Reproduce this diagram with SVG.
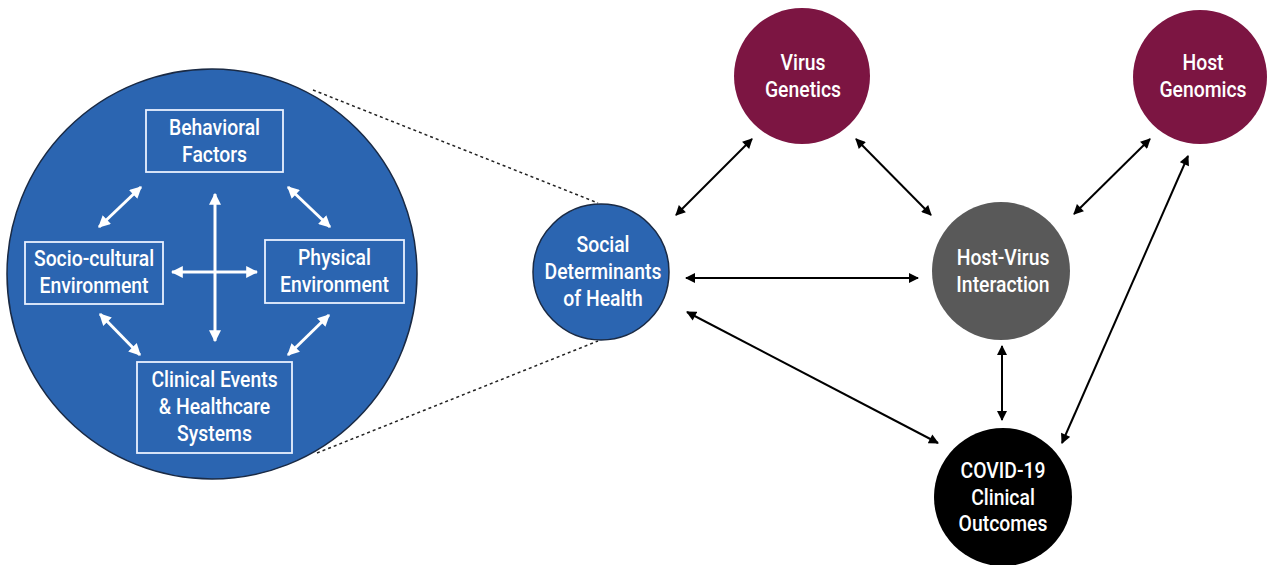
<svg xmlns="http://www.w3.org/2000/svg" width="1267" height="565" viewBox="0 0 1267 565">
<defs>
<style>
text{font-family:Roboto,"Liberation Sans",sans-serif;fill:#fff;text-anchor:middle;dominant-baseline:central;font-size:22px;font-weight:500}
.box{fill:none;stroke:#e8f0ff;stroke-width:1.8}
.wl{stroke:#fff;stroke-width:3;fill:none;marker-start:url(#wh);marker-end:url(#wh)}
.bl{stroke:#000;stroke-width:2;fill:none;marker-start:url(#bh);marker-end:url(#bh)}
.dot{stroke:#222;stroke-width:1.5;stroke-dasharray:3 3;fill:none}
</style>
<marker id="wh" viewBox="0 0 10 10" refX="9" refY="5" markerWidth="4" markerHeight="4" orient="auto-start-reverse" markerUnits="strokeWidth"><path d="M0,0 L10,5 L0,10 Z" fill="#fff"/></marker>
<marker id="bh" viewBox="0 0 10 10" refX="9" refY="5" markerWidth="5.5" markerHeight="5" orient="auto-start-reverse" markerUnits="strokeWidth"><path d="M0,0 L10,5 L0,10 Z" fill="#000"/></marker>
</defs>
<g id="connectors">
<line class="dot" x1="313" y1="90" x2="598" y2="203"/>
<line class="dot" x1="317" y1="453" x2="598" y2="341"/>
<line class="bl" x1="676" y1="215" x2="752" y2="139"/>
<line class="bl" x1="856" y1="139" x2="931" y2="215"/>
<line class="bl" x1="686" y1="278" x2="918" y2="278"/>
<line class="bl" x1="687" y1="312" x2="938" y2="443"/>
<line class="bl" x1="1002" y1="346" x2="1002" y2="420"/>
<line class="bl" x1="1074" y1="214" x2="1150" y2="139"/>
<line class="bl" x1="1188" y1="156" x2="1062" y2="443"/>
</g>
<g id="sdoh-detail">
<circle cx="212" cy="274" r="205" fill="#2b65b1" stroke="#1a2a44" stroke-width="1.5"/>
<g id="behavioral"><rect class="box" x="146" y="110" width="137" height="62"/><text transform="translate(214.5 128) scale(0.88 1)">Behavioral</text><text transform="translate(214.5 155) scale(0.88 1)">Factors</text></g>
<g id="sociocultural"><rect class="box" x="25" y="242" width="138" height="62"/><text transform="translate(94 259) scale(0.88 1)">Socio-cultural</text><text transform="translate(94 286) scale(0.88 1)">Environment</text></g>
<g id="physical"><rect class="box" x="265" y="240" width="139" height="63"/><text transform="translate(334.5 258) scale(0.88 1)">Physical</text><text transform="translate(334.5 285) scale(0.88 1)">Environment</text></g>
<g id="clinical"><rect class="box" x="137" y="362" width="155" height="91"/><text transform="translate(214.5 380) scale(0.88 1)">Clinical Events</text><text transform="translate(214.5 407) scale(0.88 1)">&amp; Healthcare</text><text transform="translate(214.5 434) scale(0.88 1)">Systems</text></g>
<g id="inner-arrows">
<line class="wl" x1="215" y1="194" x2="215" y2="341"/>
<line class="wl" x1="172" y1="272" x2="257" y2="272"/>
<line class="wl" x1="141" y1="187" x2="99" y2="227"/>
<line class="wl" x1="288" y1="187" x2="330" y2="227"/>
<line class="wl" x1="100" y1="314" x2="140" y2="355"/>
<line class="wl" x1="329" y1="315" x2="288" y2="355"/>
</g>
</g>
<g id="sdoh"><circle cx="601" cy="272" r="68" fill="#2b65b1" stroke="#1a2a44" stroke-width="1.5"/><text transform="translate(603 245) scale(0.88 1)">Social</text><text transform="translate(603 272) scale(0.88 1)">Determinants</text><text transform="translate(603 299) scale(0.88 1)">of Health</text></g>
<g id="virus-genetics"><circle cx="802" cy="76" r="68" fill="#7c1542"/><text transform="translate(803 63) scale(0.88 1)">Virus</text><text transform="translate(803 90) scale(0.88 1)">Genetics</text></g>
<g id="host-genomics"><circle cx="1200" cy="77" r="67" fill="#7c1542"/><text transform="translate(1203 63) scale(0.88 1)">Host</text><text transform="translate(1203 90) scale(0.88 1)">Genomics</text></g>
<g id="host-virus"><circle cx="1001" cy="271" r="69" fill="#595959"/><text transform="translate(1003 258) scale(0.88 1)">Host-Virus</text><text transform="translate(1003 285) scale(0.88 1)">Interaction</text></g>
<g id="covid"><circle cx="1003" cy="497" r="69" fill="#000"/><text transform="translate(1003 471) scale(0.88 1)">COVID-19</text><text transform="translate(1003 498) scale(0.88 1)">Clinical</text><text transform="translate(1003 524) scale(0.88 1)">Outcomes</text></g>
</svg>
